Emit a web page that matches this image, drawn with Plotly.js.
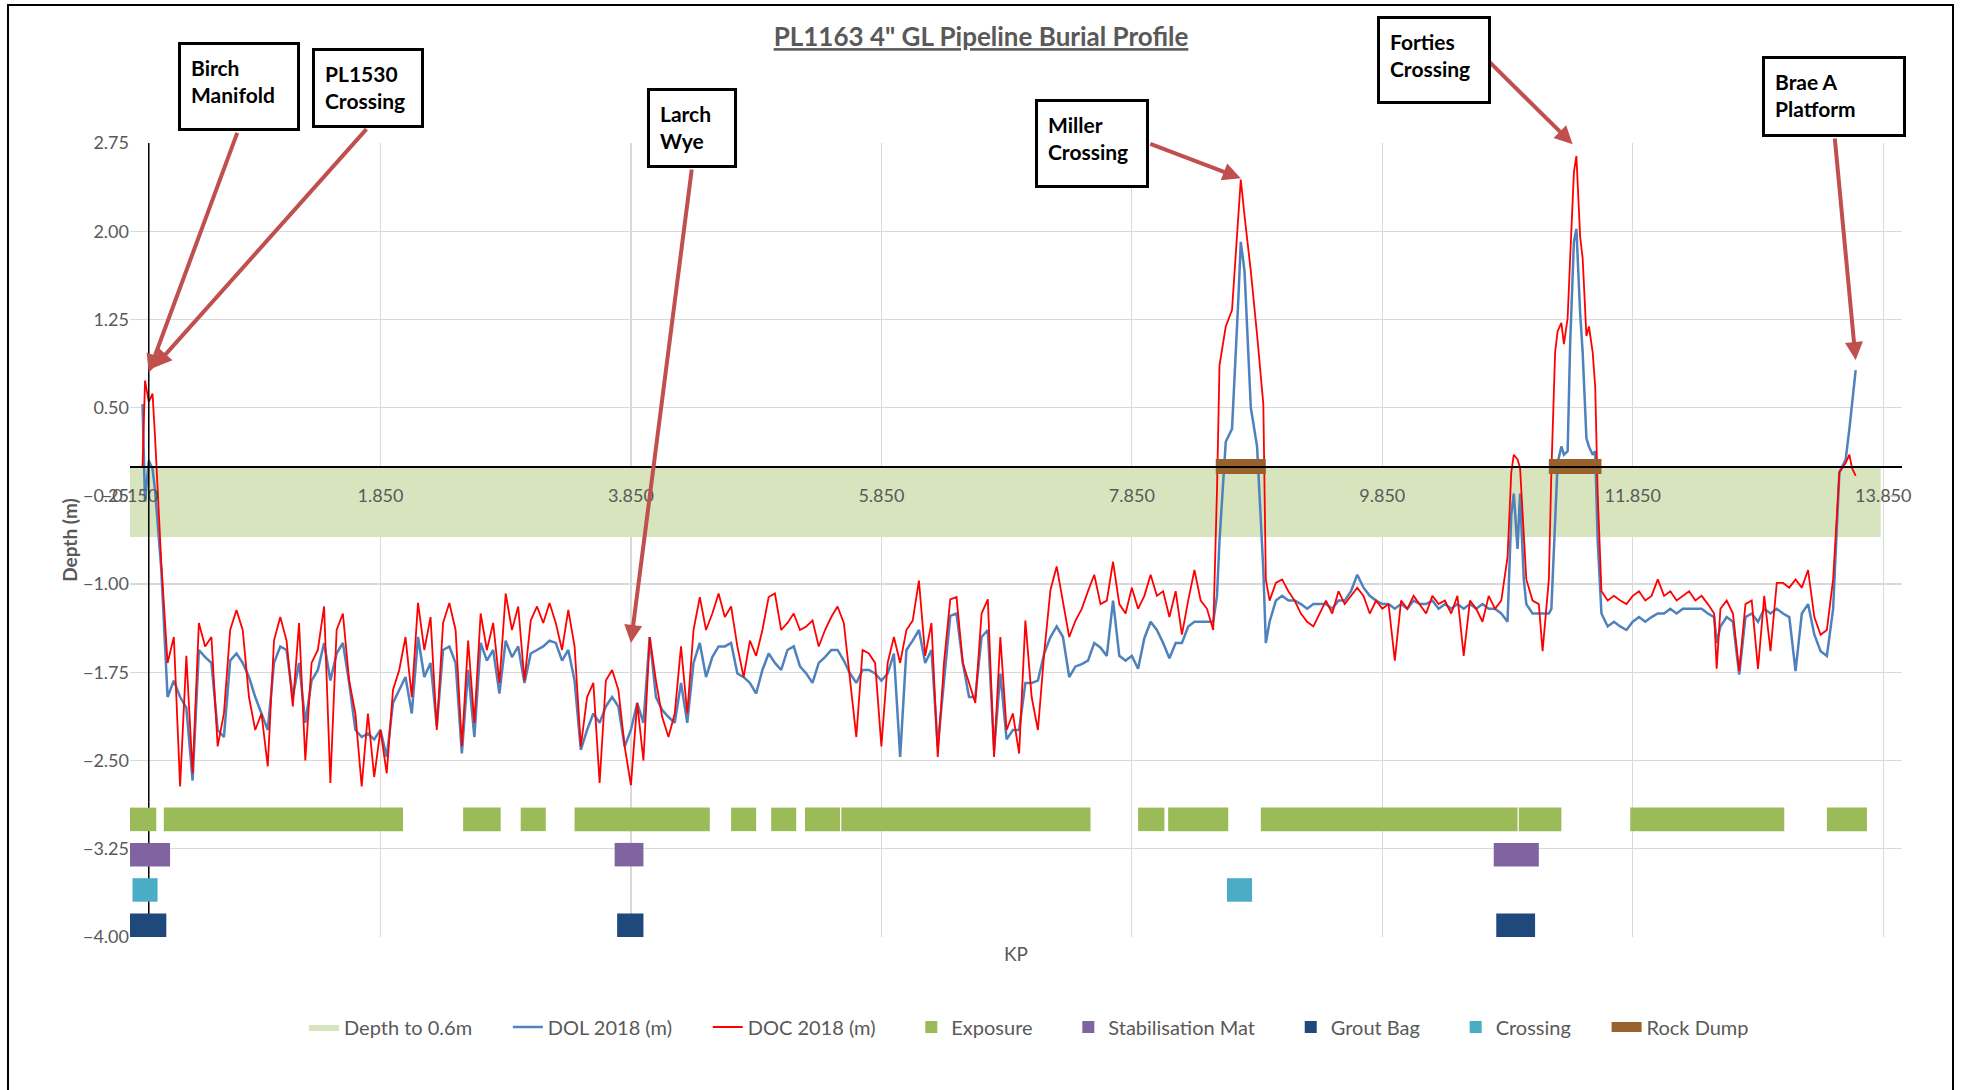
<!DOCTYPE html>
<html>
<head>
<meta charset="utf-8">
<script src="https://cdn.plot.ly/plotly-3.0.1.min.js"></script>
<style>html,body{margin:0;padding:0;background:#fff}#chart{width:1962px;height:1090px}</style>
</head>
<body>
<div id="chart"></div>
<script>
// ---------------- DATA ----------------
const kp = [-0.05,-0.03,0.00,0.03,0.05,0.07,0.10,0.15,0.20,0.25,0.30,0.35,0.40,0.45,0.50,0.55,0.60,0.65,0.70,0.75,0.80,0.85,0.90,0.95,
1.00,1.05,1.10,1.15,1.20,1.25,1.30,1.35,1.40,1.45,1.50,1.55,1.60,1.65,1.70,1.75,1.80,1.85,1.90,1.95,
2.00,2.05,2.10,2.15,2.20,2.25,2.30,2.35,2.40,2.45,2.50,2.55,2.60,2.65,2.70,2.75,2.80,2.85,2.90,2.95,
3.00,3.05,3.10,3.15,3.20,3.25,3.30,3.35,3.40,3.45,3.50,3.55,3.60,3.65,3.70,3.75,3.80,3.85,3.90,3.95,
4.00,4.05,4.10,4.15,4.20,4.25,4.30,4.35,4.40,4.45,4.50,4.55,4.60,4.65,4.70,4.75,4.80,4.85,4.90,4.95,
5.00,5.05,5.10,5.15,5.20,5.25,5.30,5.35,5.40,5.45,5.50,5.55,5.60,5.65,5.70,5.75,5.80,5.85,5.90,5.95,
6.00,6.05,6.10,6.15,6.20,6.25,6.30,6.35,6.40,6.45,6.50,6.55,6.60,6.65,6.70,6.75,6.80,6.85,6.90,6.95,
7.00,7.05,7.10,7.15,7.20,7.25,7.30,7.35,7.40,7.45,7.50,7.55,7.60,7.65,7.70,7.75,7.80,7.85,7.90,7.95,
8.00,8.05,8.10,8.15,8.20,8.25,8.30,8.35,8.40,8.45,8.50,8.53,8.55,8.60,8.65,8.70,8.72,8.75,8.80,8.85,8.90,8.92,8.95,
9.00,9.05,9.10,9.15,9.20,9.25,9.30,9.35,9.40,9.45,9.50,9.55,9.60,9.65,9.70,9.75,9.80,9.85,9.90,9.95,
10.00,10.05,10.10,10.15,10.20,10.25,10.30,10.35,10.40,10.45,10.50,10.55,10.60,10.65,10.70,10.75,10.80,10.85,10.88,10.90,10.93,10.95,10.98,
11.00,11.05,11.10,11.13,11.15,11.18,11.20,11.23,11.25,11.28,11.30,11.33,11.35,11.38,11.40,11.43,11.45,11.48,11.50,11.53,11.55,11.57,11.60,11.65,11.70,11.75,11.80,11.85,11.90,11.95,
12.00,12.05,12.10,12.15,12.20,12.25,12.30,12.35,12.40,12.45,12.50,12.52,12.55,12.60,12.65,12.70,12.75,12.80,12.85,12.90,12.95,
13.00,13.05,13.10,13.15,13.20,13.25,13.30,13.35,13.40,13.45,13.50,13.55,13.58,13.60,13.63];

const doc2018 = [0.00,0.73,0.55,0.62,0.25,-0.20,-0.82,-1.67,-1.45,-2.72,-1.61,-2.61,-1.33,-1.53,-1.45,-2.38,-2.10,-1.39,-1.22,-1.39,-1.96,-2.24,-2.10,-2.55,
-1.48,-1.28,-1.48,-2.04,-1.33,-2.50,-1.67,-1.56,-1.19,-2.69,-1.39,-1.25,-1.82,-2.10,-2.72,-2.10,-2.64,-2.24,-2.61,-1.90,
-1.73,-1.45,-1.96,-1.16,-1.56,-1.28,-2.24,-1.33,-1.16,-1.39,-2.38,-1.48,-2.18,-1.25,-1.56,-1.33,-1.84,-1.08,-1.39,-1.19,
-1.82,-1.31,-1.19,-1.33,-1.16,-1.33,-1.56,-1.22,-1.53,-2.38,-1.96,-1.84,-2.69,-1.82,-1.73,-1.90,-2.38,-2.71,-2.01,-2.50,
-1.45,-1.82,-2.13,-2.30,-2.10,-1.53,-2.10,-1.39,-1.11,-1.39,-1.25,-1.08,-1.28,-1.19,-1.53,-1.79,-1.48,-1.61,-1.39,-1.11,
-1.08,-1.39,-1.33,-1.25,-1.39,-1.36,-1.31,-1.53,-1.39,-1.28,-1.19,-1.33,-1.84,-2.30,-1.56,-1.59,-1.67,-2.38,-1.67,-1.45,
-1.67,-1.39,-1.31,-0.97,-1.61,-1.33,-2.47,-1.67,-1.13,-1.11,-1.67,-1.84,-2.01,-1.25,-1.13,-2.47,-1.45,-2.24,-2.10,-2.44,
-1.31,-1.96,-2.24,-1.59,-1.05,-0.85,-1.16,-1.45,-1.31,-1.21,-1.06,-0.92,-1.17,-1.14,-0.81,-1.17,-1.25,-1.03,-1.21,-1.10,
-0.92,-1.10,-1.06,-1.28,-1.06,-1.43,-1.14,-0.88,-1.14,-1.21,-1.39,-0.20,0.86,1.19,1.33,2.13,2.44,2.13,1.66,1.12,0.53,-0.96,-1.14,
-0.99,-0.96,-1.06,-1.14,-1.25,-1.32,-1.36,-1.25,-1.14,-1.25,-1.06,-1.17,-1.10,-1.03,-1.10,-1.25,-1.14,-1.21,-1.17,-1.65,
-1.14,-1.21,-1.10,-1.17,-1.25,-1.10,-1.17,-1.14,-1.25,-1.10,-1.61,-1.14,-1.21,-1.32,-1.10,-1.21,-1.14,-0.77,-0.05,0.10,0.06,-0.01,-0.59,
-0.96,-1.14,-1.17,-1.57,-1.32,-0.96,-0.05,0.97,1.15,1.22,1.04,1.26,1.77,2.50,2.64,1.95,1.77,1.11,1.19,0.97,0.68,-0.23,-1.06,-1.14,-1.10,-1.14,-1.17,-1.10,-1.06,-1.14,
-1.10,-0.96,-1.10,-1.06,-1.14,-1.10,-1.06,-1.14,-1.10,-1.17,-1.25,-1.72,-1.21,-1.14,-1.25,-1.74,-1.17,-1.14,-1.72,-1.10,-1.57,
-0.99,-0.99,-1.03,-0.96,-1.03,-0.88,-1.28,-1.43,-1.39,-0.96,-0.05,0.03,0.10,-0.01,-0.08];

const dol2018 = [0.53,-0.30,0.05,-0.02,-0.20,-0.50,-0.88,-1.96,-1.82,-1.96,-2.05,-2.67,-1.56,-1.62,-1.67,-2.24,-2.30,-1.65,-1.59,-1.67,-1.79,-1.96,-2.10,-2.24,
-1.67,-1.53,-1.56,-1.96,-1.67,-2.18,-1.82,-1.73,-1.50,-1.82,-1.59,-1.50,-1.84,-2.24,-2.30,-2.27,-2.32,-2.24,-2.47,-2.01,
-1.90,-1.79,-2.10,-1.45,-1.79,-1.67,-2.21,-1.56,-1.53,-1.67,-2.44,-1.73,-2.30,-1.50,-1.65,-1.56,-1.93,-1.48,-1.62,-1.53,
-1.84,-1.59,-1.56,-1.53,-1.48,-1.50,-1.65,-1.56,-1.82,-2.41,-2.24,-2.10,-2.18,-2.04,-1.96,-2.04,-2.38,-2.24,-2.01,-2.18,
-1.45,-1.96,-2.07,-2.13,-2.18,-1.84,-2.18,-1.67,-1.50,-1.79,-1.62,-1.53,-1.53,-1.50,-1.76,-1.79,-1.84,-1.93,-1.73,-1.59,
-1.67,-1.73,-1.56,-1.53,-1.70,-1.76,-1.84,-1.67,-1.62,-1.56,-1.56,-1.65,-1.76,-1.84,-1.73,-1.73,-1.76,-1.82,-1.76,-1.59,
-2.47,-1.56,-1.48,-1.39,-1.67,-1.56,-2.38,-1.84,-1.27,-1.25,-1.67,-1.96,-1.96,-1.45,-1.39,-2.41,-1.76,-2.32,-2.24,-2.24,
-1.84,-1.84,-1.82,-1.59,-1.45,-1.36,-1.45,-1.79,-1.70,-1.68,-1.65,-1.50,-1.54,-1.61,-1.14,-1.61,-1.65,-1.61,-1.72,-1.46,
-1.32,-1.39,-1.50,-1.63,-1.50,-1.50,-1.36,-1.32,-1.32,-1.32,-1.32,-1.10,-0.63,0.21,0.32,1.41,1.91,1.66,0.50,0.17,-0.88,-1.50,-1.32,
-1.14,-1.10,-1.14,-1.14,-1.17,-1.21,-1.17,-1.17,-1.17,-1.21,-1.14,-1.14,-1.06,-0.92,-1.03,-1.10,-1.14,-1.17,-1.17,-1.21,
-1.17,-1.21,-1.14,-1.17,-1.17,-1.14,-1.21,-1.17,-1.21,-1.17,-1.21,-1.17,-1.21,-1.17,-1.21,-1.21,-1.25,-1.32,-0.41,-0.23,-0.70,-0.23,-0.96,
-1.17,-1.25,-1.25,-1.25,-1.25,-1.25,-1.21,-0.41,0.03,0.17,0.10,0.13,1.04,1.91,2.02,1.30,0.97,0.24,0.17,0.10,0.13,-0.63,-1.25,-1.36,-1.32,-1.36,-1.39,-1.32,-1.28,-1.32,
-1.28,-1.25,-1.25,-1.21,-1.25,-1.21,-1.21,-1.21,-1.21,-1.25,-1.28,-1.50,-1.36,-1.28,-1.32,-1.77,-1.28,-1.25,-1.32,-1.21,-1.25,
-1.21,-1.25,-1.28,-1.74,-1.25,-1.17,-1.43,-1.57,-1.61,-1.21,-0.05,0.06,0.32,0.53,0.82];

// Depth to 0.6m band
const bandKP = [-0.15, 13.83];
const bandDepth = [-0.6, -0.6];

// Event strips (KP start / end)
const exposureStart = [-0.15, 0.12, 2.51, 2.97, 3.40, 4.65, 4.97, 5.24, 5.53, 7.90, 8.14, 8.88, 10.94, 11.83, 13.40];
const exposureEnd   = [ 0.06, 2.03, 2.81, 3.17, 4.48, 4.85, 5.17, 5.52, 7.52, 8.11, 8.62, 10.93, 11.28, 13.06, 13.72];
const stabMatStart  = [-0.15, 3.72, 10.74];
const stabMatEnd    = [ 0.17, 3.95, 11.10];
const groutStart    = [-0.15, 3.74, 10.76];
const groutEnd      = [ 0.14, 3.95, 11.07];
const crossingStart = [-0.13, 8.61];
const crossingEnd   = [ 0.07, 8.81];
const rockStart     = [8.52, 11.18];
const rockEnd       = [8.92, 11.60];

// Callouts
const calloutText  = ['Birch<br>Manifold','PL1530<br>Crossing','Larch<br>Wye','Miller<br>Crossing','Forties<br>Crossing','Brae A<br>Platform'];
const calloutKP    = [0.00, 0.04, 3.85, 8.72, 11.37, 13.63];
const calloutDepth = [0.80, 0.84, -1.50, 2.45, 2.74, 0.905];

// Series names
const seriesNames = ['Depth to 0.6m','DOL 2018 (m)','DOC 2018 (m)','Exposure','Stabilisation Mat','Grout Bag','Crossing','Rock Dump'];

// Axis ticks
const xTick0 = -0.15, xDtick = 2, xMax = 14.0;
const yMin = -4.0, yMax = 2.75, yDtick = 0.75;

// ---------------- LAYOUT HELPERS ----------------
const W = 1962, H = 1090;
const M = {l:130, r:60, t:143, b:153};
const plotW = W - M.l - M.r, plotH = H - M.t - M.b;
const px2x = px => (px - M.l) / plotW;
const py2y = py => (H - M.b - py) / plotH;

const FONT = 'Lato, "Open Sans", sans-serif';
const GREY = '#595959';
// trailing spacing between legend entries
const PAD = '\u00a0'.repeat(6);
const legendName = i => seriesNames[i] + (i < seriesNames.length - 1 ? PAD : '');

// rows for strips
const rowExposure = -3.0, rowStab = -3.3, rowCrossing = -3.6, rowGrout = -3.9, stripH = 0.2;

function strip(name, starts, ends, row, color) {
  return {
    type: 'bar', orientation: 'h', name: name,
    base: starts, x: starts.map((s, i) => ends[i] - s),
    y: starts.map(() => row), width: stripH,
    marker: {color: color, line: {width: 0}},
    hoverinfo: 'skip'
  };
}

const rockX = [], rockY = [];
rockStart.forEach((s, i) => { rockX.push(s, rockEnd[i], null); rockY.push(0, 0, null); });

const traces = [
  {type:'scatter', mode:'lines', name:legendName(0), x: bandKP, y: bandDepth,
   fill:'tozeroy', fillcolor:'#D7E4BD', line:{width:0, color:'#D7E4BD'}, hoverinfo:'skip'},
  {type:'scatter', mode:'lines', name:legendName(1), x: kp, y: dol2018,
   line:{color:'#4F81BD', width:2.5}},
  {type:'scatter', mode:'lines', name:legendName(2), x: kp, y: doc2018,
   line:{color:'#FF0000', width:1.8}},
  strip(legendName(3), exposureStart, exposureEnd, rowExposure, '#9BBB59'),
  strip(legendName(4), stabMatStart, stabMatEnd, rowStab, '#8064A2'),
  strip(legendName(5), groutStart, groutEnd, rowGrout, '#1F497D'),
  strip(legendName(6), crossingStart, crossingEnd, rowCrossing, '#4BACC6'),
  {type:'scatter', mode:'lines', name:legendName(7), x: rockX, y: rockY,
   line:{color:'#98622E', width:15}, connectgaps:false, hoverinfo:'skip'}
];

// callout geometry (pixels)
const boxes = [
  {left:178, top:42, w:96, h:63},
  {left:312, top:48, w:86, h:54},
  {left:647, top:88, w:64, h:54},
  {left:1035, top:99, w:88, h:63},
  {left:1377, top:16, w:88, h:62},
  {left:1762, top:56, w:118, h:55}
];
const tails = [[89,-241],[214,-240],[61,-475],[-92,-35],[-85,-84],[-21,-223]];

const annotations = [];
calloutText.forEach((t, i) => {
  annotations.push({
    xref:'x', yref:'y', x: calloutKP[i], y: calloutDepth[i],
    axref:'pixel', ayref:'pixel', ax: tails[i][0], ay: tails[i][1],
    text:'', showarrow:true, arrowhead:2, arrowsize:0.9, arrowwidth:4,
    arrowcolor:'#C0504D', standoff:0
  });
});
calloutText.forEach((t, i) => {
  const b = boxes[i];
  annotations.push({
    xref:'paper', yref:'paper', x: px2x(b.left), y: py2y(b.top),
    xanchor:'left', yanchor:'top', text:'<b>' + t + '</b>', showarrow:false,
    align:'left', valign:'top', width:b.w, height:b.h,
    bordercolor:'#000', borderwidth:3, borderpad:10, bgcolor:'#fff',
    font:{family:FONT, size:21, color:'#000'}
  });
});
annotations.push({
  xref:'paper', yref:'paper', x: px2x(1016), y: py2y(953), xanchor:'center', yanchor:'middle',
  text:'KP', showarrow:false, font:{family:FONT, size:19, color:GREY}
});

const layout = {
  width: W, height: H,
  margin: {l:M.l, r:M.r, t:M.t, b:M.b, pad:0},
  paper_bgcolor:'#fff', plot_bgcolor:'#fff',
  font:{family:FONT, color:GREY},
  showlegend:true,
  barmode:'overlay',
  title:{
    text:'<b><u>PL1163 4" GL Pipeline Burial Profile</u></b>',
    font:{family:FONT, size:26, color:GREY},
    xref:'container', x:0.5, xanchor:'center',
    yref:'container', y: 1 - 37/H, yanchor:'middle'
  },
  xaxis:{
    range:[xTick0, xMax], tick0:xTick0, dtick:xDtick, tickformat:'.3f',
    anchor:'free', position:(0 - yMin)/(yMax - yMin),
    showline:true, linecolor:'#000', linewidth:1.5,
    showgrid:true, gridcolor:'#D9D9D9', gridwidth:1.3,
    zeroline:false, ticks:'', ticklabelstandoff:12,
    tickfont:{family:FONT, size:18, color:GREY}
  },
  yaxis:{
    range:[yMin, yMax], tick0:yMin, dtick:yDtick, tickformat:'.2f',
    showline:false, showgrid:true, gridcolor:'#D9D9D9', gridwidth:1.3,
    zeroline:false, ticks:'', ticklabelstandoff:0,
    tickfont:{family:FONT, size:18, color:GREY},
    title:{text:'<b>Depth (m)</b>', font:{family:FONT, size:19, color:GREY}, standoff:0}
  },
  legend:{
    orientation:'h', x: px2x(1029), xanchor:'center', y: py2y(1027), yanchor:'middle',
    font:{family:FONT, size:20, color:GREY}, bgcolor:'rgba(0,0,0,0)', traceorder:'normal'
  },
  shapes:[
    {type:'line', xref:'x', yref:'y', x0:0, x1:0, y0:-2.85, y1:yMax, line:{color:'#000', width:1.5}, layer:'above'},
    {type:'line', xref:'x', yref:'y', x0:0, x1:0, y0:yMin, y1:-2.85, line:{color:'#000', width:1.5}, layer:'below'},
    {type:'rect', xref:'paper', yref:'paper', x0:px2x(8), x1:px2x(1953), y0:py2y(1100), y1:py2y(5),
     line:{color:'#000', width:2}, fillcolor:'rgba(0,0,0,0)', layer:'above'}
  ],
  annotations: annotations,
  hovermode:false
};

Plotly.newPlot('chart', traces, layout, {staticPlot:true, displayModeBar:false});
</script>
</body>
</html>
